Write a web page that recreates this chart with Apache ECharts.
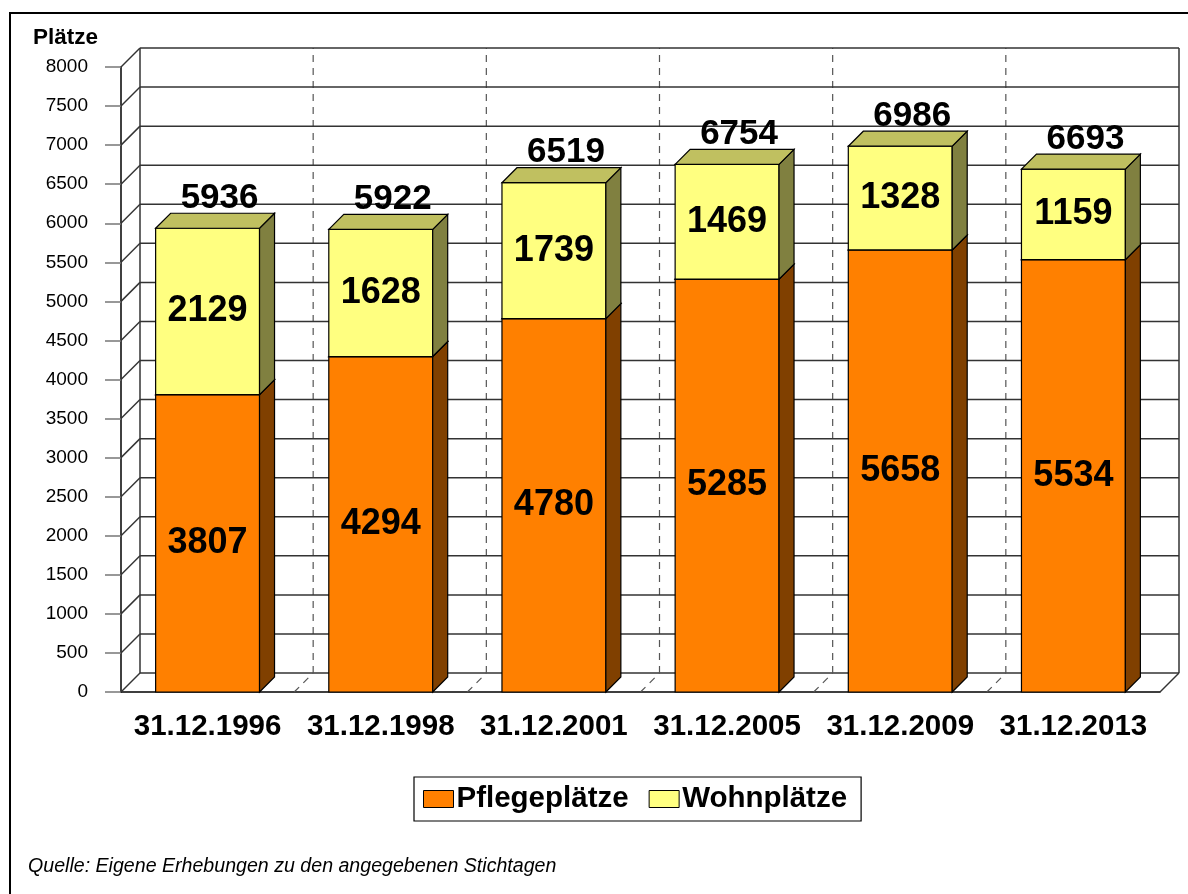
<!DOCTYPE html>
<html>
<head>
<meta charset="utf-8">
<script src="https://cdn.jsdelivr.net/npm/echarts@6/dist/echarts.min.js"></script>
<style>
  html, body { margin: 0; padding: 0; background: #fff; }
  #chart { width: 1188px; height: 894px; }
</style>
</head>
<body>
<div id="chart"></div>
<script>
// Daten
const categories = ['31.12.1996', '31.12.1998', '31.12.2001', '31.12.2005', '31.12.2009', '31.12.2013'];
const pflegeplaetze = [3807, 4294, 4780, 5285, 5658, 5534];
const wohnplaetze = [2129, 1628, 1739, 1469, 1328, 1159];
const gesamt = [5936, 5922, 6519, 6754, 6986, 6693];
const yTicks = [0, 500, 1000, 1500, 2000, 2500, 3000, 3500, 4000, 4500, 5000, 5500, 6000, 6500, 7000, 7500, 8000];

const FONT = 'Arial, "Liberation Sans", sans-serif';
const DX = 19, DY = 19;   // Tiefe der Wände
const BD = 15;            // Tiefe der Säulen
const GRID_COLOR = '#333';

// Rückwand, Seitenwand, Boden
function renderWall(params, api) {
    const cs = params.coordSys;
    const left = cs.x, right = cs.x + cs.width;
    const y = api.coord([0, api.value(1)])[1];
    const lineStyle = { stroke: GRID_COLOR, lineWidth: 1.5 };
    const children = [
        { type: 'line', shape: { x1: left + DX, y1: y - DY, x2: right + DX, y2: y - DY }, style: lineStyle },
        { type: 'line', shape: { x1: left, y1: y, x2: left + DX, y2: y - DY }, style: lineStyle }
    ];
    if (params.dataIndex === 0) {
        const top = api.coord([0, yTicks[yTicks.length - 1]])[1];
        children.push(
            { type: 'line', shape: { x1: left + DX, y1: y - DY, x2: left + DX, y2: top - DY }, style: lineStyle },
            { type: 'line', shape: { x1: right + DX, y1: y - DY, x2: right + DX, y2: top - DY }, style: lineStyle },
            { type: 'line', shape: { x1: right, y1: y, x2: right + DX, y2: y - DY }, style: lineStyle }
        );
        const band = api.size([1, 0])[0];
        const dash = { stroke: '#555', lineWidth: 1.2, lineDash: [7, 6] };
        for (let k = 1; k < categories.length; k++) {
            const bx = api.coord([k, 0])[0] - band / 2;
            children.push(
                { type: 'line', shape: { x1: bx + DX, y1: y - DY, x2: bx + DX, y2: top - DY }, style: dash },
                { type: 'line', shape: { x1: bx, y1: y, x2: bx + DX, y2: y - DY }, style: dash }
            );
        }
    }
    return { type: 'group', children };
}

function makeBarRenderer(front, side, topColor, withTotal) {
    return function (params, api) {
        const i = api.value(0);
        const lo = api.coord([i, api.value(1)]);
        const hi = api.coord([i, api.value(2)]);
        const w = api.size([1, 0])[0] * 0.6;
        const x0 = lo[0] - w / 2, x1 = lo[0] + w / 2;
        const edge = { stroke: '#000', lineWidth: 1.2 };
        const children = [
            { type: 'rect', shape: { x: x0, y: hi[1], width: w, height: lo[1] - hi[1] },
              style: Object.assign({ fill: front }, edge) },
            { type: 'polygon', shape: { points: [[x1, lo[1]], [x1 + BD, lo[1] - BD], [x1 + BD, hi[1] - BD], [x1, hi[1]]] },
              style: Object.assign({ fill: side }, edge) },
            { type: 'polygon', shape: { points: [[x0, hi[1]], [x0 + BD, hi[1] - BD], [x1 + BD, hi[1] - BD], [x1, hi[1]]] },
              style: Object.assign({ fill: topColor }, edge) },
            { type: 'text', x: lo[0], y: (lo[1] + hi[1]) / 2,
              style: { text: String(api.value(3)), font: 'bold 36px ' + FONT, fill: '#000', align: 'center', verticalAlign: 'middle' } }
        ];
        if (withTotal) {
            children.push({ type: 'text', x: lo[0] + 12, y: hi[1] - 30,
                style: { text: String(api.value(4)), font: 'bold 35px ' + FONT, fill: '#000', align: 'center', verticalAlign: 'middle' } });
        }
        return { type: 'group', children };
    };
}

const chart = echarts.init(document.getElementById('chart'), null, { renderer: 'canvas' });

chart.setOption({
    backgroundColor: '#fff',
    animation: false,
    title: {
        text: 'Plätze', left: 33, top: 26, padding: 0,
        textStyle: { fontFamily: FONT, fontSize: 22.5, fontWeight: 'bold', color: '#000' }
    },
    legend: {
        data: ['Pflegeplätze', 'Wohnplätze'],
        left: 414, top: 777,
        padding: [7, 14, 7, 9],
        borderColor: '#000', borderWidth: 1.2,
        icon: 'rect', itemWidth: 30, itemHeight: 17, itemGap: 20,
        itemStyle: { borderColor: '#000', borderWidth: 1 },
        textStyle: { fontFamily: FONT, fontSize: 29.5, fontWeight: 'bold', color: '#000', padding: [0, 0, 0, -2] }
    },
    grid: { left: 121, right: 28, top: 67, bottom: 202 },
    xAxis: {
        type: 'category',
        data: categories,
        axisLine: { lineStyle: { color: '#000', width: 1.5 } },
        axisTick: { show: false },
        axisLabel: { interval: 0, margin: 20, fontFamily: FONT, fontSize: 29.5, fontWeight: 'bold', color: '#000' },
        splitLine: { show: false }
    },
    yAxis: {
        type: 'value', min: 0, max: 8000, interval: 500,
        axisLine: { show: true, lineStyle: { color: '#000', width: 1.5 } },
        axisTick: { show: true, length: 16, lineStyle: { color: '#777', width: 1.5 } },
        axisLabel: { margin: 33, fontFamily: FONT, fontSize: 19, color: '#000', formatter: v => String(v) },
        splitLine: { show: false }
    },
    graphic: [
        { type: 'rect', shape: { x: 10, y: 13, width: 1300, height: 1000 },
          style: { fill: 'none', stroke: '#000', lineWidth: 2 }, z: 100 },
        { type: 'text', left: 28, top: 857,
          style: { text: 'Quelle: Eigene Erhebungen zu den angegebenen Stichtagen', font: 'italic 19.6px ' + FONT, fill: '#000' } }
    ],
    series: [
        {
            type: 'custom', name: 'wall', silent: true, z: 1,
            data: yTicks.map(v => [0, v]),
            encode: { x: 0, y: 1 },
            renderItem: renderWall
        },
        {
            type: 'custom', name: 'Pflegeplätze', z: 2,
            itemStyle: { color: '#FF8000' },
            data: categories.map((c, i) => [i, 0, pflegeplaetze[i], pflegeplaetze[i]]),
            encode: { x: 0, y: [1, 2] },
            renderItem: makeBarRenderer('#FF8000', '#804000', '#C06000', false)
        },
        {
            type: 'custom', name: 'Wohnplätze', z: 3,
            itemStyle: { color: '#FFFF80' },
            data: categories.map((c, i) => [i, pflegeplaetze[i], pflegeplaetze[i] + wohnplaetze[i], wohnplaetze[i], gesamt[i]]),
            encode: { x: 0, y: [1, 2] },
            renderItem: makeBarRenderer('#FFFF80', '#808040', '#C0C060', true)
        }
    ]
});
</script>
</body>
</html>
